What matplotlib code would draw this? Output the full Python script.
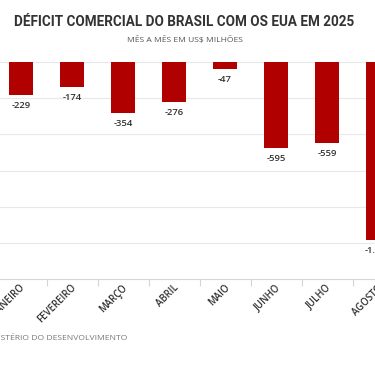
import matplotlib
matplotlib.use("Agg")
import matplotlib.pyplot as plt

plt.rcParams["font.family"] = ["Open Sans", "DejaVu Sans"]

# data (US$ milhões)
meses = ["JANEIRO", "FEVEREIRO", "MARÇO", "ABRIL", "MAIO", "JUNHO", "JULHO", "AGOSTO"]
saldo = [-229, -174, -354, -276, -47, -595, -559, -1227]
rotulos = ["-229", "-174", "-354", "-276", "-47", "-595", "-559", "-1.227"]

W, H = 375, 366
fig = plt.figure(figsize=(W / 100, H / 100), dpi=100)
fig.patch.set_facecolor("white")

# axes is wider than the figure: the original picture is a crop
ax_l, ax_r = -4.5, 403.5
ax_t, ax_b = 62, 279
ax = fig.add_axes([ax_l / W, (H - ax_b) / H, (ax_r - ax_l) / W, (ax_b - ax_t) / H])
ax.set_xlim(-0.5, len(meses) - 0.5)
ax.set_ylim(-1500, 0)

x = list(range(len(meses)))
ax.bar(x, saldo, width=0.47, color="#b00000", zorder=3)

for xi, v, lab in zip(x, saldo, rotulos):
    ax.annotate(lab, (xi, v), xytext=(0, -4.5), textcoords="offset points",
                ha="center", va="top", fontsize=6.8, color="#333333",
                fontweight="semibold")

ax.set_yticks([0, -250, -500, -750, -1000, -1250])
ax.yaxis.grid(True, color="#e8e8e8", lw=0.8, zorder=0)
ax.tick_params(axis="y", left=False, labelleft=False)
for s in ["top", "left", "right"]:
    ax.spines[s].set_visible(False)
ax.spines["bottom"].set_color("#d5d5d5")
ax.spines["bottom"].set_linewidth(0.8)

ax.set_xticks([i + 0.5 for i in x[:-1]])
ax.set_xticklabels([])
ax.tick_params(axis="x", length=5, color="#d5d5d5", width=0.8)
for xi, m in zip(x, meses):
    ax.annotate(m, (xi, -1500), xytext=(-0.5, -2.5), textcoords="offset points",
                rotation=45, ha="right", va="top", fontsize=6.9,
                color="#333333", fontweight="semibold",
                rotation_mode="anchor", annotation_clip=False)

titulo = fig.text(184.5 / W, 1 - 22.5 / H,
                  "DÉFICIT COMERCIAL DO BRASIL COM OS EUA EM 2025",
                  ha="center", va="center", fontsize=10, fontweight="bold",
                  color="#333333", family=["Roboto", "Open Sans"])
# fit the title width to the reference (~339 px)
r = fig.canvas.get_renderer()
w = titulo.get_window_extent(r).width
titulo.set_fontsize(10 * 339 / w)

fig.text(184.5 / W, 1 - 40 / H, "MÊS A MÊS EM US$ MILHÕES",
         ha="center", va="center", fontsize=6.1, color="#555555")
fig.text(127 / W, 1 - 339 / H, "FONTE: MINISTÉRIO DO DESENVOLVIMENTO",
         ha="right", va="center", fontsize=6.1, color="#777777")

fig.savefig("out.png", dpi=100, facecolor="white")
